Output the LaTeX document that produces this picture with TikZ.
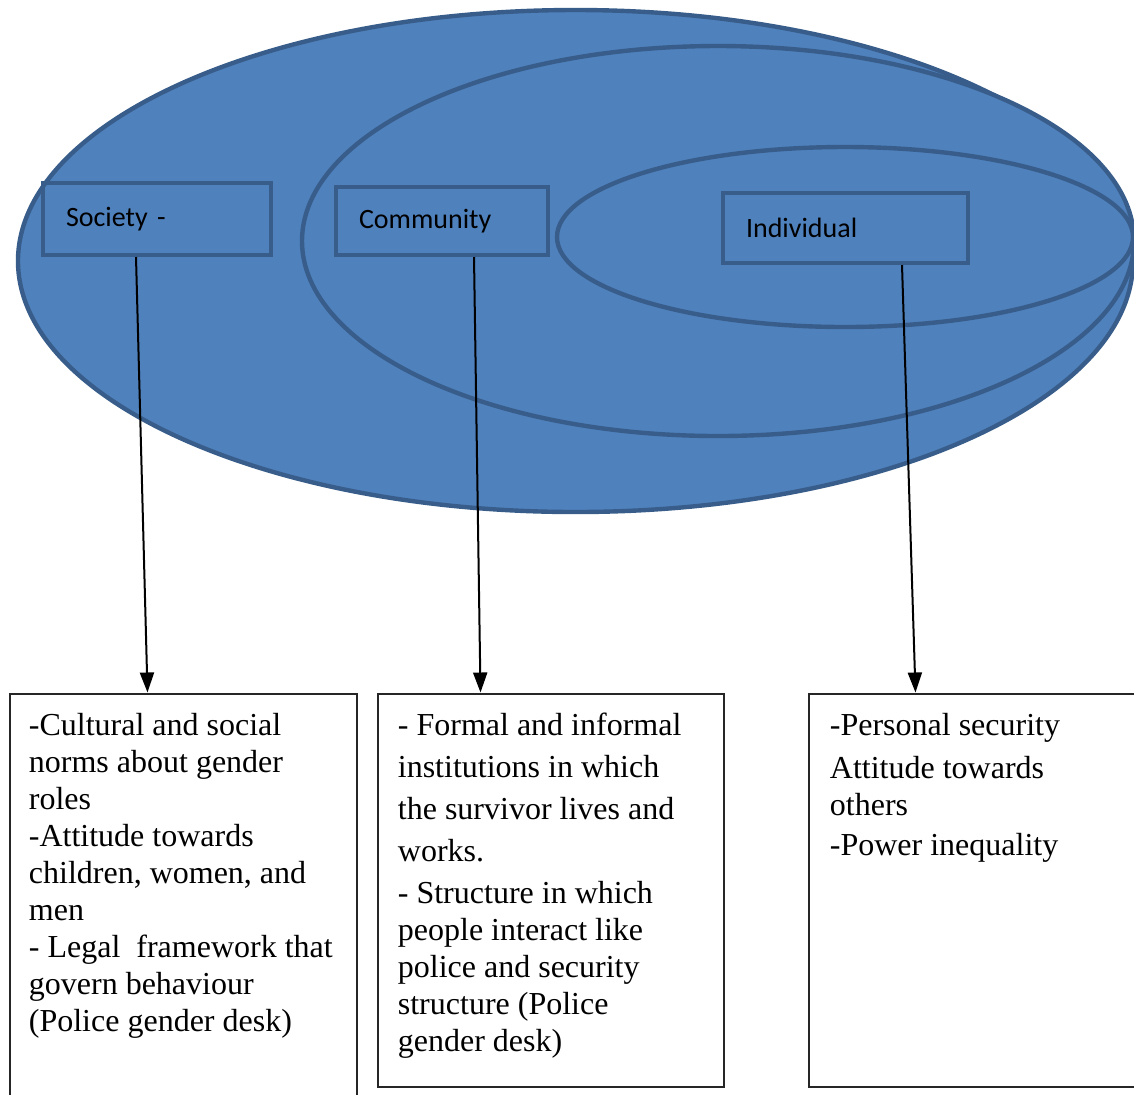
\documentclass[tikz,border=0pt]{standalone}
\usepackage{fontspec}
\setmainfont{Liberation Serif}
\newfontfamily\lblfont{Carlito}
\usetikzlibrary{arrows.meta}
\definecolor{ringfill}{HTML}{4F81BD}
\definecolor{ringline}{HTML}{385D8A}

\begin{document}
\begin{tikzpicture}[x=0.5pt, y=-0.5pt,
    ring/.style = {fill=ringfill, draw=ringline, line width=2.2pt},
    level/.style = {draw=ringline, line width=2pt, inner xsep=11.5pt, align=left, anchor=north west, font=\lblfont\fontsize{14}{16}\selectfont},
    notes/.style = {draw=black!85, line width=1pt, minimum height=196.5pt, anchor=north west},
    body/.style = {anchor=north west, inner sep=0pt, align=left, font=\fontsize{16}{18.5}\selectfont},
    pointer/.style = {-{Triangle[length=10pt,width=7pt]}, line width=1pt}]
    \useasboundingbox (0,0) rectangle (1134,1094);
    \clip (0,0) rectangle (1134,1094);
    % society, community, individual
    \draw[ring] (575.5,261) ellipse [x radius=557.5, y radius=251];
    \draw[ring] (718,241) ellipse [x radius=416, y radius=195];
    \draw[ring] (845,237) ellipse [x radius=288, y radius=90];
    \node[level, text width=91pt, minimum height=36pt] (society) at (41,181) {Society -};
    \node[level, text width=83pt, minimum height=34pt] (community) at (334,185) {Community};
    \node[level, text width=99.5pt, minimum height=35pt] (individual) at (721,191) {Individual};
    % boxes below
    \node[notes, minimum width=173.5pt, minimum height=225pt] (socnotes) at (9,692.5) {};
    \node[notes, minimum width=173pt] (commnotes) at (376.5,692.5) {};
    \node[notes, minimum width=170pt] (indnotes) at (808,692.5) {};
    \node[body] (soctext) at ([shift={(19.5,20)}]socnotes.north west) {-Cultural and social\\
        norms about gender\\
        roles\\
        -Attitude towards\\
        children, women, and\\
        men\\
        - Legal\ \ framework that\\
        govern behaviour\\
        (Police gender desk)};
    \node[body] (commtext) at ([shift={(21,20)}]commnotes.north west) {- Formal and informal\\[2.5pt]
        institutions in which\\[2.5pt]
        the survivor lives and\\[2.5pt]
        works.\\[2.5pt]
        - Structure in which\\
        people interact like\\
        police and security\\
        structure (Police\\
        gender desk)};
    \node[body] (indtext) at ([shift={(21.5,20)}]indnotes.north west) {-Personal security\\[3pt]
        Attitude towards\\
        others\\[1.5pt]
        -Power inequality};
    \draw[pointer] ([xshift=-10.5pt]society.south) -- ([xshift=69.25pt]socnotes.north west);
    \draw[pointer] ([xshift=16pt]community.south) -- ([xshift=52pt]commnotes.north west);
    \draw[pointer] ([xshift=28.25pt]individual.south) -- ([xshift=53.75pt]indnotes.north west);
\end{tikzpicture}
\end{document}
